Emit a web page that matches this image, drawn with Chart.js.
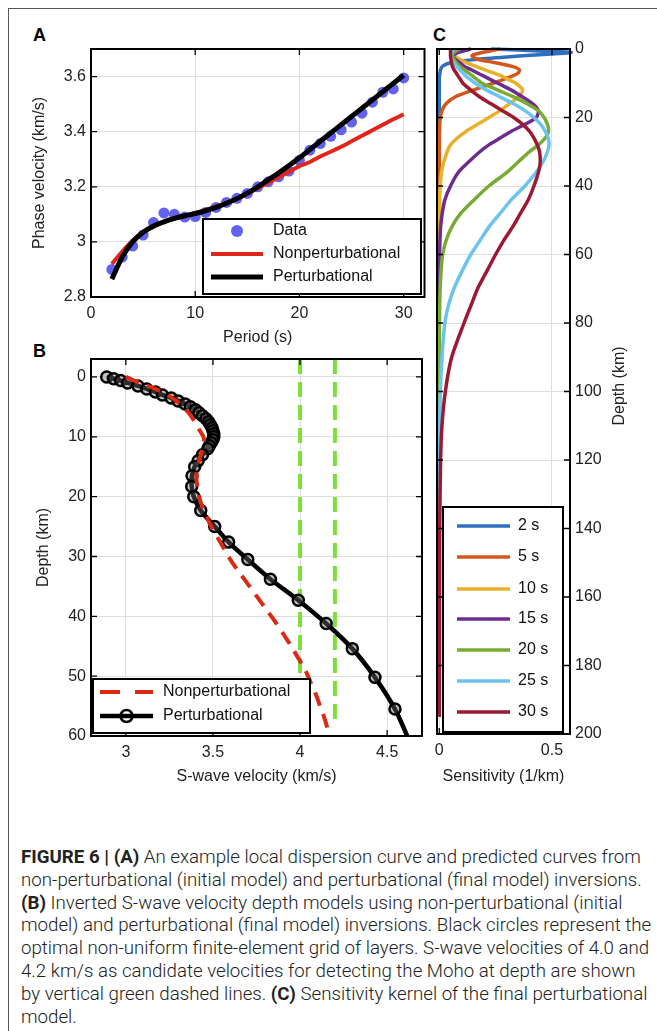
<!DOCTYPE html>
<html>
<head>
<meta charset="utf-8">
<script src="https://cdn.jsdelivr.net/npm/chart.js@4.4.1/dist/chart.umd.min.js"></script>
<style>
  html, body { margin: 0; padding: 0; background: #fff; }
  body { position: relative; width: 657px; height: 1031px; overflow: hidden; }
  .frame { position: absolute; left: 8px; top: 8px; width: 700px; height: 1100px; border-left: 1px solid #555; border-top: 1px solid #555; }
  canvas { position: absolute; }
  #chartA { left: 0; top: 40px; }
  #chartB { left: 0; top: 345px; }
  #chartC { left: 420px; top: 40px; }
  .tag { position: absolute; font: bold 18px "Liberation Sans", Arial, sans-serif; color: #000; line-height: 18px; }
  .caption { position: absolute; left: 21px; top: 846px; font-family: Roboto, sans-serif; font-weight: 300; font-size: 18.7px; line-height: 22.8px; color: #222; white-space: nowrap; }
  .caption b { font-weight: 700; }
</style>
</head>
<body>
<div class="frame"></div>
<div class="tag" style="left:33px; top:26px;">A</div>
<div class="tag" style="left:33px; top:342px;">B</div>
<div class="tag" style="left:433px; top:26px;">C</div>
<canvas id="chartA" width="430" height="312"></canvas>
<canvas id="chartB" width="430" height="445"></canvas>
<canvas id="chartC" width="237" height="750"></canvas>
<div class="caption">
<b>FIGURE 6 | (A)</b> An example local dispersion curve and predicted curves from<br>
non-perturbational (initial model) and perturbational (final model) inversions.<br>
<b>(B)</b> Inverted S-wave velocity depth models using non-perturbational (initial<br>
model) and perturbational (final model) inversions. Black circles represent the<br>
optimal non-uniform finite-element grid of layers. S-wave velocities of 4.0 and<br>
4.2 km/s as candidate velocities for detecting the Moho at depth are shown<br>
by vertical green dashed lines. <b>(C)</b> Sensitivity kernel of the final perturbational<br>
model.
</div>
<script>
// ---- panel A: dispersion curve ----
const periods = [2, 3, 4, 5, 6, 7, 8, 9, 10, 11, 12, 13, 14, 15, 16, 17, 18, 19, 20, 21, 22, 23, 24, 25, 26, 27, 28, 29, 30];
const observedVel = [2.90, 2.945, 2.985, 3.025, 3.07, 3.105, 3.10, 3.09, 3.092, 3.107, 3.125, 3.143, 3.158, 3.176, 3.20,
  3.218, 3.236, 3.257, 3.296, 3.333, 3.357, 3.383, 3.407, 3.435, 3.467, 3.507, 3.543, 3.555, 3.595];
const nonpertVel = [2.92, 2.965, 3.005, 3.035, 3.055, 3.072, 3.085, 3.095, 3.105, 3.115, 3.128, 3.142, 3.157, 3.175, 3.195,
  3.215, 3.235, 3.255, 3.275, 3.29, 3.31, 3.327, 3.345, 3.365, 3.385, 3.405, 3.425, 3.445, 3.463];
const pertVel = [2.865, 2.945, 3.00, 3.035, 3.058, 3.073, 3.085, 3.095, 3.103, 3.113, 3.125, 3.14, 3.157, 3.177, 3.20,
  3.225, 3.25, 3.277, 3.305, 3.335, 3.365, 3.395, 3.425, 3.455, 3.485, 3.515, 3.545, 3.575, 3.605];
const periodTicks = [0, 10, 20, 30];
const phaseTicks = [2.8, 3, 3.2, 3.4, 3.6];

// ---- panel B: S-wave velocity models ----
const pertDepth = [0, 0.3, 0.6, 1.0, 1.5, 2.0, 2.5, 3.0, 3.5, 4.0, 4.5, 5.0, 5.5, 6.0, 6.5, 7.0, 7.5, 8.0, 8.5, 9.0, 9.5,
  10.0, 10.5, 11.0, 11.5, 12, 13, 14, 15, 16.5, 18.3, 20, 22.3, 25, 27.6, 30.5, 33.8, 37.3, 41.2, 45.4, 50.2, 55.5, 60];
const pertVs = [2.89, 2.93, 2.97, 3.01, 3.07, 3.12, 3.17, 3.21, 3.26, 3.30, 3.34, 3.37, 3.40, 3.42, 3.44, 3.46, 3.475, 3.485,
  3.495, 3.50, 3.505, 3.505, 3.50, 3.49, 3.48, 3.47, 3.44, 3.415, 3.395, 3.38, 3.378, 3.39, 3.43, 3.51, 3.59, 3.70, 3.83,
  3.99, 4.15, 4.30, 4.43, 4.545, 4.615];
const nonpertDepth = [0, 1, 2, 3, 4, 5, 6, 7, 8, 9, 10, 11, 12, 13, 14, 15, 17, 19, 21, 23, 25, 27, 29, 31, 33, 35, 37, 39,
  41, 43, 45, 47, 49, 51, 53, 55, 57, 59, 60];
const nonpertVs = [3.00, 3.08, 3.17, 3.24, 3.29, 3.33, 3.36, 3.385, 3.405, 3.425, 3.445, 3.45, 3.44, 3.43, 3.42, 3.41, 3.405,
  3.415, 3.43, 3.46, 3.49, 3.53, 3.57, 3.61, 3.66, 3.71, 3.76, 3.81, 3.86, 3.905, 3.95, 3.99, 4.03, 4.06, 4.09, 4.115, 4.14,
  4.16, 4.17];
const mohoVs = [4.0, 4.2];
const mohoDepth = [-3, 57.5];
const vsTicks = [3, 3.5, 4, 4.5];
const depthTicksB = [0, 10, 20, 30, 40, 50, 60];

// ---- panel C: sensitivity kernels ----
const kernelPeriods = [2, 5, 10, 15, 20, 25, 30];
const kernelDepth = [0, 0.5, 1, 1.5, 2, 3, 4, 5, 6, 7, 8, 9, 10, 12, 14, 16, 18, 20, 22, 24, 26, 28, 30, 33, 36, 40, 44, 48,
  52, 56, 60, 65, 70, 75, 80, 90, 100, 110, 120, 140, 170, 195];
const kernel2s = [0.23, 0.42, 0.585, 0.48, 0.37, 0.17, 0.05, 0.015, 0.006, 0.003, 0.001, 0, 0, 0, 0, 0, 0, 0, 0, 0, 0, 0, 0,
  0, 0, 0, 0, 0, 0, 0, 0, 0, 0, 0, 0, 0, 0, 0, 0, 0, 0, 0];
const kernel5s = [0.27, 0.23, 0.19, 0.16, 0.145, 0.17, 0.25, 0.32, 0.355, 0.35, 0.32, 0.28, 0.24, 0.15, 0.07, 0.03, 0.012,
  0.005, 0.002, 0.001, 0, 0, 0, 0, 0, 0, 0, 0, 0, 0, 0, 0, 0, 0, 0, 0, 0, 0, 0, 0, 0, 0];
const kernel10s = [0.14, 0.10, 0.075, 0.065, 0.068, 0.09, 0.12, 0.16, 0.20, 0.24, 0.28, 0.31, 0.34, 0.37, 0.35, 0.31, 0.27,
  0.22, 0.17, 0.12, 0.08, 0.05, 0.035, 0.02, 0.01, 0.004, 0.002, 0.001, 0, 0, 0, 0, 0, 0, 0, 0, 0, 0, 0, 0, 0, 0];
const kernel15s = [0.14, 0.11, 0.085, 0.07, 0.062, 0.07, 0.09, 0.11, 0.14, 0.17, 0.20, 0.23, 0.26, 0.32, 0.37, 0.415, 0.44,
  0.43, 0.38, 0.32, 0.27, 0.22, 0.18, 0.13, 0.085, 0.05, 0.025, 0.013, 0.006, 0.003, 0.001, 0, 0, 0, 0, 0, 0, 0, 0, 0, 0, 0];
const kernel20s = [0.09, 0.075, 0.065, 0.06, 0.058, 0.065, 0.075, 0.09, 0.11, 0.13, 0.15, 0.17, 0.19, 0.26, 0.33, 0.39, 0.44,
  0.465, 0.48, 0.485, 0.47, 0.44, 0.40, 0.35, 0.30, 0.22, 0.155, 0.095, 0.055, 0.03, 0.015, 0.008, 0.004, 0.002, 0.001, 0, 0,
  0, 0, 0, 0, 0];
const kernel25s = [0.065, 0.06, 0.055, 0.052, 0.05, 0.055, 0.065, 0.075, 0.09, 0.105, 0.12, 0.14, 0.16, 0.21, 0.27, 0.33, 0.38,
  0.42, 0.45, 0.47, 0.483, 0.487, 0.48, 0.46, 0.43, 0.38, 0.32, 0.27, 0.22, 0.18, 0.14, 0.10, 0.065, 0.04, 0.025, 0.012,
  0.005, 0.002, 0.001, 0, 0, 0];
const kernel30s = [0.05, 0.05, 0.05, 0.05, 0.05, 0.052, 0.055, 0.058, 0.065, 0.075, 0.085, 0.095, 0.105, 0.14, 0.18, 0.23,
  0.28, 0.33, 0.37, 0.40, 0.42, 0.435, 0.445, 0.448, 0.44, 0.42, 0.395, 0.36, 0.325, 0.285, 0.25, 0.21, 0.17, 0.14, 0.11,
  0.055, 0.027, 0.012, 0.006, 0.002, 0.001, 0];
const sensTicks = [0, 0.5];
const depthTicksC = [0, 20, 40, 60, 80, 100, 120, 140, 160, 180, 200];

const kernels = [kernel2s, kernel5s, kernel10s, kernel15s, kernel20s, kernel25s, kernel30s];
const kernelColors = ['#2f6fc0', '#d4561b', '#e8b12a', '#6e2d8e', '#77ab33', '#6cc3ee', '#9c1931'];

Chart.defaults.font.family = '"Liberation Sans", Arial, sans-serif';
Chart.defaults.font.size = 16;
Chart.defaults.color = '#222';
Chart.defaults.animation = false;
Chart.defaults.events = [];
Chart.defaults.responsive = false;
Chart.defaults.plugins.legend.display = false;
Chart.defaults.plugins.tooltip.enabled = false;

// linear axis with fixed ticks and fixed thickness
function axis(min, max, ticks, size, tickPad, title, titlePad, extra) {
  return Object.assign({
    type: 'linear', min: min, max: max,
    grid: { color: '#dedede', lineWidth: 1, drawTicks: false },
    border: { display: false },
    ticks: { padding: tickPad, color: '#222', callback: v => String(v) },
    title: { display: !!title, text: title, padding: titlePad, color: '#222' },
    afterBuildTicks: s => { s.ticks = ticks.map(v => ({ value: v })); },
    afterFit: s => {
      if (s.isHorizontal()) { s.height = size; s.paddingLeft = 0; s.paddingRight = 0; }
      else { s.width = size; s.paddingTop = 0; s.paddingBottom = 0; }
    }
  }, extra || {});
}

function pts(xs, ys) {
  return xs.map((x, i) => ({ x: x, y: ys[i] }));
}

function drawLegend(chart, lg) {
  const ctx = chart.ctx;
  ctx.setLineDash([]);
  ctx.fillStyle = '#fff';
  ctx.fillRect(lg.x, lg.y, lg.w, lg.h);
  ctx.strokeStyle = '#000';
  ctx.lineWidth = 2;
  ctx.strokeRect(lg.x, lg.y, lg.w, lg.h);
  ctx.font = '16px "Liberation Sans", Arial, sans-serif';
  ctx.textBaseline = 'middle';
  ctx.textAlign = 'left';
  lg.items.forEach((it, i) => {
    const ds = chart.data.datasets[it.index];
    const y = lg.rows[i];
    const x0 = lg.lineX[0], x1 = lg.lineX[1];
    if (ds.showLine) {
      ctx.strokeStyle = ds.borderColor;
      ctx.lineWidth = ds.borderWidth;
      ctx.setLineDash(it.dash || []);
      ctx.beginPath();
      ctx.moveTo(x0, y);
      ctx.lineTo(x1, y);
      ctx.stroke();
      ctx.setLineDash([]);
    }
    if (it.marker === 'dot') {
      ctx.fillStyle = ds.pointBackgroundColor;
      ctx.beginPath();
      ctx.arc((x0 + x1) / 2, y, 6, 0, Math.PI * 2);
      ctx.fill();
    } else if (it.marker === 'ring') {
      ctx.strokeStyle = '#000';
      ctx.lineWidth = 2.5;
      ctx.beginPath();
      ctx.arc((x0 + x1) / 2, y, 6, 0, Math.PI * 2);
      ctx.stroke();
    }
    ctx.fillStyle = '#111';
    ctx.fillText(ds.label, lg.textX, y);
  });
}

// box, inward ticks, inset legend and right-hand title
const framePlugin = {
  id: 'frame',
  afterDatasetsDraw(chart, args, opts) {
    const ctx = chart.ctx;
    const a = chart.chartArea;
    const xs = chart.scales.x, ys = chart.scales.y;
    ctx.save();
    ctx.strokeStyle = '#000';
    ctx.lineWidth = 1.3;
    ctx.beginPath();
    xs.ticks.forEach(t => {
      const p = xs.getPixelForValue(t.value);
      ctx.moveTo(p, a.bottom); ctx.lineTo(p, a.bottom - 6);
      ctx.moveTo(p, a.top); ctx.lineTo(p, a.top + 6);
    });
    ys.ticks.forEach(t => {
      const p = ys.getPixelForValue(t.value);
      ctx.moveTo(a.left, p); ctx.lineTo(a.left + 6, p);
      ctx.moveTo(a.right, p); ctx.lineTo(a.right - 6, p);
    });
    ctx.stroke();
    ctx.lineWidth = 2;
    ctx.strokeRect(a.left, a.top, a.right - a.left, a.bottom - a.top);
    if (opts.legend) drawLegend(chart, opts.legend);
    if (opts.rightTitle) {
      const rt = opts.rightTitle;
      ctx.translate(rt.x, rt.y);
      ctx.rotate(-Math.PI / 2);
      ctx.fillStyle = '#222';
      ctx.font = '16px "Liberation Sans", Arial, sans-serif';
      ctx.textAlign = 'center';
      ctx.textBaseline = 'middle';
      ctx.fillText(rt.text, 0, 0);
    }
    ctx.restore();
  }
};

// panel A
new Chart(document.getElementById('chartA'), {
  type: 'scatter',
  data: {
    datasets: [
      { label: 'Data', data: pts(periods, observedVel), showLine: false, pointRadius: 5.5,
        pointBackgroundColor: '#6262f0', pointBorderWidth: 0, order: 3 },
      { label: 'Nonperturbational', data: pts(periods, nonpertVel), showLine: true, borderColor: '#e0261b',
        borderWidth: 4, pointRadius: 0, cubicInterpolationMode: 'monotone', order: 2 },
      { label: 'Perturbational', data: pts(periods, pertVel), showLine: true, borderColor: '#000',
        borderWidth: 5, pointRadius: 0, cubicInterpolationMode: 'monotone', order: 1 }
    ]
  },
  options: {
    layout: { padding: { left: 0, top: 9, right: 5, bottom: 0 } },
    scales: {
      x: axis(0, 32, periodTicks, 55, 7, 'Period (s)', { top: 0, bottom: 5 }),
      y: axis(2.8, 3.7, phaseTicks, 91, 5, 'Phase velocity (km/s)', { top: 30, bottom: 0 })
    },
    plugins: {
      frame: {
        legend: { x: 203, y: 179, w: 218, h: 75, rows: [191, 214, 237], lineX: [211, 263], textX: 273,
          items: [{ index: 0, marker: 'dot' }, { index: 1 }, { index: 2 }] }
      }
    }
  },
  plugins: [framePlugin]
});

// panel B
const mohoSets = mohoVs.map(v => ({
  label: 'Moho ' + v, data: pts([v, v], mohoDepth), showLine: true, borderColor: '#7be03a',
  borderWidth: 4, borderDash: [15, 8], pointRadius: 0, order: 3
}));
new Chart(document.getElementById('chartB'), {
  type: 'scatter',
  data: {
    datasets: [
      { label: 'Nonperturbational', data: pts(nonpertVs, nonpertDepth), showLine: true, borderColor: '#dc2a12',
        borderWidth: 4, borderDash: [14, 9], pointRadius: 0, tension: 0.3, order: 1 },
      { label: 'Perturbational', data: pts(pertVs, pertDepth), showLine: true, borderColor: '#000',
        borderWidth: 4.5, tension: 0.3, order: 2,
        pointRadius: c => (c.dataIndex === pertDepth.length - 1 ? 0 : 5.5),
        pointBorderColor: '#000', pointBorderWidth: 2.5, pointBackgroundColor: 'rgba(110,110,110,0.4)' }
    ].concat(mohoSets)
  },
  options: {
    layout: { padding: { left: 0, top: 14, right: 5, bottom: 0 } },
    scales: {
      x: axis(2.8, 4.7, vsTicks, 54, 7, 'S-wave velocity (km/s)', { top: 0, bottom: 3.4 }),
      y: axis(-3, 60, depthTicksB, 91, 5, 'Depth (km)', { top: 34, bottom: 0 }, { reverse: true })
    },
    plugins: {
      frame: {
        legend: { x: 93, y: 334, w: 217, h: 54, rows: [347, 371], lineX: [100, 153], textX: 163,
          items: [{ index: 0, dash: [20, 15] }, { index: 1, marker: 'ring' }] }
      }
    }
  },
  plugins: [framePlugin]
});

// panel C
new Chart(document.getElementById('chartC'), {
  type: 'scatter',
  data: {
    datasets: kernels.map((k, i) => ({
      label: kernelPeriods[i] + ' s', data: pts(k, kernelDepth), showLine: true, borderColor: kernelColors[i],
      borderWidth: 3.5, pointRadius: 0, tension: 0.25, clip: false, order: kernels.length - i
    }))
  },
  options: {
    layout: { padding: { left: 17, top: 9, right: 0, bottom: 0 } },
    scales: {
      x: axis(-0.01, 0.58, sensTicks, 56, 7, 'Sensitivity (1/km)', { top: 0, bottom: 3.4 }),
      y: axis(0, 200, depthTicksC, 87, 5, '', 0, { reverse: true, position: 'right' })
    },
    plugins: {
      frame: {
        legend: { x: 23, y: 467, w: 120, h: 225, rows: [486, 517, 549, 579, 610, 641, 672], lineX: [37, 90], textX: 98,
          items: kernelPeriods.map((p, i) => ({ index: i })) },
        rightTitle: { text: 'Depth (km)', x: 200, y: 346 }
      }
    }
  },
  plugins: [framePlugin]
});
</script>
</body>
</html>
